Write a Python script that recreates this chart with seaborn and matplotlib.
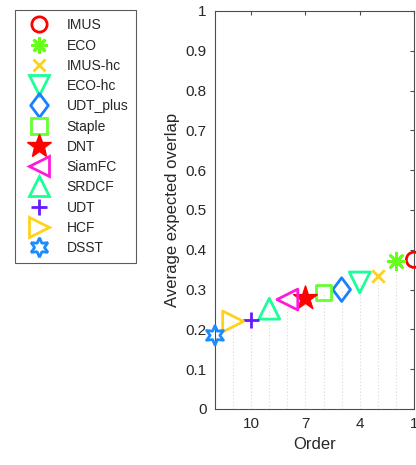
import matplotlib
matplotlib.use("Agg")
import matplotlib.pyplot as plt
from matplotlib.lines import Line2D
from matplotlib.path import Path
import seaborn as sns
import pandas as pd

methods = ["IMUS", "ECO", "IMUS-hc", "ECO-hc", "UDT_plus", "Staple", "DNT",
           "SiamFC", "SRDCF", "UDT", "HCF", "DSST"]
order = [1, 2, 3, 4, 5, 6, 7, 8, 9, 10, 11, 12]
eao = [0.375, 0.372, 0.333, 0.318, 0.300, 0.293, 0.279, 0.275, 0.252, 0.223, 0.220, 0.185]
xticks = [10, 7, 4, 1]
yticks = [0, 0.1, 0.2, 0.3, 0.4, 0.5, 0.6, 0.7, 0.8, 0.9, 1]

diamond = Path([(0, 1), (0.75, 0), (0, -1), (-0.75, 0), (0, 1)],
               [Path.MOVETO, Path.LINETO, Path.LINETO, Path.LINETO, Path.CLOSEPOLY])

colors = ["#ff0000", "#66ff1a", "#ffd21a", "#1aff99", "#1a80ff", "#66ff33",
          "#ff0000", "#ff1ad9", "#1aff99", "#661aff", "#ffd21a", "#1a8cff"]
markers = ["o", (8, 2, 0), "x", "v", diamond, "s", "*", "<", "^", "+", ">", (6, 1, 0)]
msizes = [11, 12, 9, 15, 17, 11, 18, 15, 15, 12, 15, 14]
filled = [False, True, True, False, False, False, True, False, False, True, False, False]

df = pd.DataFrame({"method": methods, "order": order, "eao": eao})

sns.set_theme(style="white")
plt.rcParams["font.family"] = ["Liberation Sans", "DejaVu Sans"]

fig = plt.figure(figsize=(4.16, 4.65), dpi=100)
ax = fig.add_axes([215 / 416, 1 - 409 / 465, 199 / 416, 398 / 465])

ax.vlines(df["order"], 0, df["eao"], colors="#d8d8d8", linestyles=(0, (1, 2)), linewidth=0.8, zorder=1)

handles = []
for i, row in df.iterrows():
    sub = df.iloc[[i]]
    c = colors[i]
    ms = msizes[i]
    if filled[i]:
        kw = dict(color=c, edgecolor=c, linewidth=2)
        if markers[i] == "*":
            kw = dict(color=c, edgecolor=c, linewidth=1)
    else:
        kw = dict(facecolor="none", edgecolor=c, linewidth=2)
    sns.scatterplot(data=sub, x="order", y="eao", marker=markers[i], s=ms ** 2,
                    ax=ax, zorder=3, clip_on=False, legend=False, **kw)
    if filled[i]:
        h = Line2D([], [], linestyle="none", marker=markers[i], markersize=ms,
                   color=c, markeredgewidth=2 if markers[i] != "*" else 1)
    else:
        h = Line2D([], [], linestyle="none", marker=markers[i], markersize=ms,
                   markerfacecolor="none", markeredgecolor=c, markeredgewidth=2)
    handles.append(h)

ax.set_xlim(12, 1)
ax.set_ylim(0, 1)
ax.set_xticks(xticks)
ax.set_yticks(yticks)
ax.set_yticklabels(["0", "0.1", "0.2", "0.3", "0.4", "0.5", "0.6", "0.7", "0.8", "0.9", "1"])
ax.set_xlabel("Order", fontsize=12, color="#262626")
ax.set_ylabel("Average expected overlap", fontsize=12, color="#262626")
ax.tick_params(axis="both", direction="in", top=True, right=True, length=3,
               width=0.8, color="#4d4d4d", labelsize=11, labelcolor="#262626", pad=6)
for sp in ax.spines.values():
    sp.set_color("#4d4d4d")
    sp.set_linewidth(0.8)

leg = fig.legend(handles, methods, loc="upper left",
                 bbox_to_anchor=(15 / 416, 1 - 10 / 465), borderaxespad=0,
                 fontsize=10, labelspacing=0.45, handletextpad=0.9, handlelength=2.2,
                 frameon=True, fancybox=False, borderpad=0.6)
leg.get_frame().set_edgecolor("#333333")
leg.get_frame().set_linewidth(0.8)
for t in leg.get_texts():
    t.set_color("#262626")

fig.savefig("out.png", dpi=100)
